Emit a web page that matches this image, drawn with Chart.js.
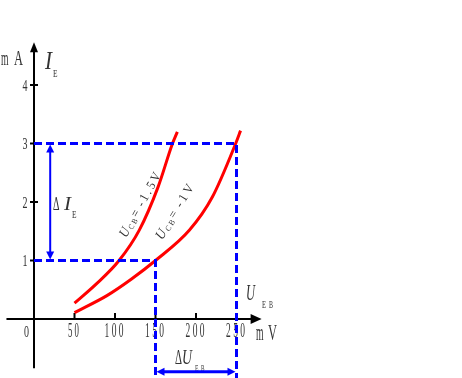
<!DOCTYPE html>
<html>
<head>
<meta charset="utf-8">
<script src="https://cdn.jsdelivr.net/npm/chart.js@4/dist/chart.umd.min.js"></script>
<style>
  html, body { margin: 0; padding: 0; background: #fff; }
  canvas { display: block; }
</style>
</head>
<body>
<canvas id="chart" width="462" height="378"></canvas>
<script>
// axis ticks
const xTicks = [50, 100, 150, 200, 250];
const xTickLabels = ['5 0', '1 0 0', '1 5 0', '2 0 0', '2 5 0'];
const yTicks = [1, 2, 3, 4];
const yTickLabels = ['1', '2', '3', '4'];

// input curves: U_EB (mV), I_E (mA)
const uebHighCb = [50, 77, 105, 130, 153, 171, 177];          // U_CB = -1.5V
const ieHighCb = [0.27, 0.6, 1.0, 1.52, 2.25, 3.0, 3.2];
const uebLowCb = [50, 90, 120, 150, 192, 220, 249, 255];      // U_CB = -1V
const ieLowCb = [0.11, 0.4, 0.68, 1.0, 1.52, 2.08, 3.0, 3.22];

// readings marked on the plot
const ieMarks = [1, 3];
const uebMarks = [150, 250];
const deltaIeAt = 20;      // U_EB where the delta I_E arrow stands
const deltaUebAt = -0.9;   // I_E where the delta U_EB arrow stands

const xMin = -34 / 0.81, xMax = (462 - 34) / 0.81;
const yMin = -59 / 58.5, yMax = 319 / 58.5;

const pts = (xs, ys) => xs.map((x, i) => ({ x: x, y: ys[i] }));

const BLUE = '#0000ff';
const RED = '#ff0000';

function fitText(ctx, str, x, y, width, size, italic, baseline) {
  ctx.save();
  ctx.font = (italic ? 'italic ' : '') + size + 'px "Liberation Serif"';
  ctx.textBaseline = baseline || 'alphabetic';
  ctx.textAlign = 'left';
  const w = ctx.measureText(str).width;
  ctx.translate(x, y);
  ctx.scale(width / w, 1);
  ctx.fillText(str, 0, 0);
  ctx.restore();
}

// a run of tokens laid along a slanted line
function slantText(ctx, tokens, x, y, angle, length) {
  ctx.save();
  ctx.textBaseline = 'middle';
  let total = 0;
  tokens.forEach(t => {
    ctx.font = (t.it ? 'italic ' : '') + t.s + 'px "Liberation Serif"';
    t.w = ctx.measureText(t.t).width;
    total += t.w;
  });
  ctx.translate(x, y);
  ctx.rotate(angle * Math.PI / 180);
  ctx.scale(length / total, 1);
  let pos = 0;
  tokens.forEach(t => {
    ctx.font = (t.it ? 'italic ' : '') + t.s + 'px "Liberation Serif"';
    ctx.fillText(t.t, pos, t.dy || 0);
    pos += t.w;
  });
  ctx.restore();
}

function arrowHead(ctx, tx, ty, dx, dy, len, half) {
  const bx = tx - dx * len, by = ty - dy * len;
  ctx.beginPath();
  ctx.moveTo(tx, ty);
  ctx.lineTo(bx - dy * half, by + dx * half);
  ctx.lineTo(bx + dy * half, by - dx * half);
  ctx.closePath();
  ctx.fill();
}

const decor = {
  id: 'decor',
  beforeDatasetsDraw(chart) {
    const ctx = chart.ctx;
    const sx = chart.scales.x, sy = chart.scales.y;
    const x0 = sx.getPixelForValue(0), y0 = sy.getPixelForValue(0);
    ctx.save();
    ctx.strokeStyle = '#000';
    ctx.fillStyle = '#000';
    ctx.lineWidth = 2;
    // axes
    ctx.beginPath();
    ctx.moveTo(sx.getPixelForValue(-34), y0);
    ctx.lineTo(sx.getPixelForValue(275), y0);
    ctx.moveTo(x0, sy.getPixelForValue(-0.84));
    ctx.lineTo(x0, sy.getPixelForValue(4.6));
    // ticks
    xTicks.forEach(v => {
      const px = sx.getPixelForValue(v);
      ctx.moveTo(px, y0);
      ctx.lineTo(px, y0 - 6);
    });
    yTicks.forEach(v => {
      const py = sy.getPixelForValue(v);
      ctx.moveTo(x0 - 4, py);
      ctx.lineTo(x0 + 4, py);
    });
    ctx.stroke();
    arrowHead(ctx, sx.getPixelForValue(281), y0, 1, 0, 11, 5);
    arrowHead(ctx, x0, sy.getPixelForValue(4.73), 0, -1, 10, 4);

    // tick labels
    ctx.fillStyle = '#333';
    xTicks.forEach((v, i) => {
      const w = xTickLabels[i].length > 3 ? 19 : 11;
      fitText(ctx, xTickLabels[i], sx.getPixelForValue(v) - w / 2 - 1, y0 + 18, w, 20);
    });
    yTicks.forEach((v, i) => {
      fitText(ctx, yTickLabels[i], x0 - 11.5, sy.getPixelForValue(v) + 5.5, 5, 16);
    });
    fitText(ctx, '0', x0 - 10, y0 + 18, 5, 16);

    // axis titles
    fitText(ctx, 'm', 1, 65, 7.5, 22);
    fitText(ctx, 'A', 14, 65, 9, 22);
    fitText(ctx, 'I', 45, 69, 7, 25, true);
    fitText(ctx, 'E', 53, 77, 4.5, 11);
    fitText(ctx, 'm', 256, 340, 7.5, 23);
    fitText(ctx, 'V', 268, 340, 9, 24);
    fitText(ctx, 'U', 246, 300, 9, 24, true);
    fitText(ctx, 'E', 262, 308, 4, 10);
    fitText(ctx, 'B', 269, 308, 4, 10);

    // delta labels
    fitText(ctx, 'Δ', 53, 210, 6.5, 18);
    fitText(ctx, 'I', 64, 210, 7, 18, true);
    fitText(ctx, 'E', 72, 218, 4.5, 10);
    fitText(ctx, 'Δ', 175, 364, 7, 20);
    fitText(ctx, 'U', 182, 364, 10, 21, true);
    fitText(ctx, 'E', 195, 371, 3.5, 9);
    fitText(ctx, 'B', 201, 371, 3.5, 9);

    // curve labels
    slantText(ctx, [
      { t: 'U', s: 14, it: true },
      { t: ' C B ', s: 8, dy: 3 },
      { t: '=  - 1 . 5 V', s: 13 }
    ], 123, 236.5, -60.6, 72);
    slantText(ctx, [
      { t: 'U', s: 14, it: true },
      { t: ' C B ', s: 8, dy: 3 },
      { t: '=  - 1 V', s: 13 }
    ], 159, 238.5, -58.5, 62);
    ctx.restore();
  },
  afterDatasetsDraw(chart) {
    const ctx = chart.ctx;
    const sx = chart.scales.x, sy = chart.scales.y;
    ctx.save();
    ctx.fillStyle = BLUE;
    const ax = sx.getPixelForValue(deltaIeAt);
    arrowHead(ctx, ax, sy.getPixelForValue(ieMarks[1]) + 1, 0, -1, 8, 4);
    arrowHead(ctx, ax, sy.getPixelForValue(ieMarks[0]) - 1, 0, 1, 8, 4);
    const ay = sy.getPixelForValue(deltaUebAt);
    arrowHead(ctx, sx.getPixelForValue(uebMarks[0]) + 1, ay, -1, 0, 8, 4);
    arrowHead(ctx, sx.getPixelForValue(uebMarks[1]) - 1, ay, 1, 0, 8, 4);
    ctx.restore();
  }
};

const dashed = { borderColor: BLUE, borderWidth: 3, borderDash: [8, 4], tension: 0 };
const curve = { borderColor: RED, borderWidth: 3, tension: 0.4, cubicInterpolationMode: 'monotone' };

new Chart(document.getElementById('chart'), {
  type: 'scatter',
  data: {
    datasets: [
      Object.assign({ data: [{ x: 0, y: ieMarks[1] }, { x: uebMarks[1], y: ieMarks[1] }, { x: uebMarks[1], y: yMin }] }, dashed),
      Object.assign({ data: [{ x: 0, y: ieMarks[0] }, { x: uebMarks[0], y: ieMarks[0] }, { x: uebMarks[0], y: yMin }] }, dashed),
      { data: [{ x: deltaIeAt, y: ieMarks[0] + 0.1 }, { x: deltaIeAt, y: ieMarks[1] - 0.1 }], borderColor: BLUE, borderWidth: 2 },
      { data: [{ x: uebMarks[0] + 8, y: deltaUebAt }, { x: uebMarks[1] - 8, y: deltaUebAt }], borderColor: BLUE, borderWidth: 3 },
      Object.assign({ data: pts(uebHighCb, ieHighCb) }, curve),
      Object.assign({ data: pts(uebLowCb, ieLowCb) }, curve)
    ].map(d => Object.assign({ showLine: true, pointRadius: 0, fill: false }, d))
  },
  options: {
    responsive: false,
    animation: false,
    layout: { padding: 0 },
    plugins: { legend: { display: false }, tooltip: { enabled: false } },
    scales: {
      x: { type: 'linear', min: xMin, max: xMax, display: false },
      y: { type: 'linear', min: yMin, max: yMax, display: false }
    }
  },
  plugins: [decor]
});
</script>
</body>
</html>
